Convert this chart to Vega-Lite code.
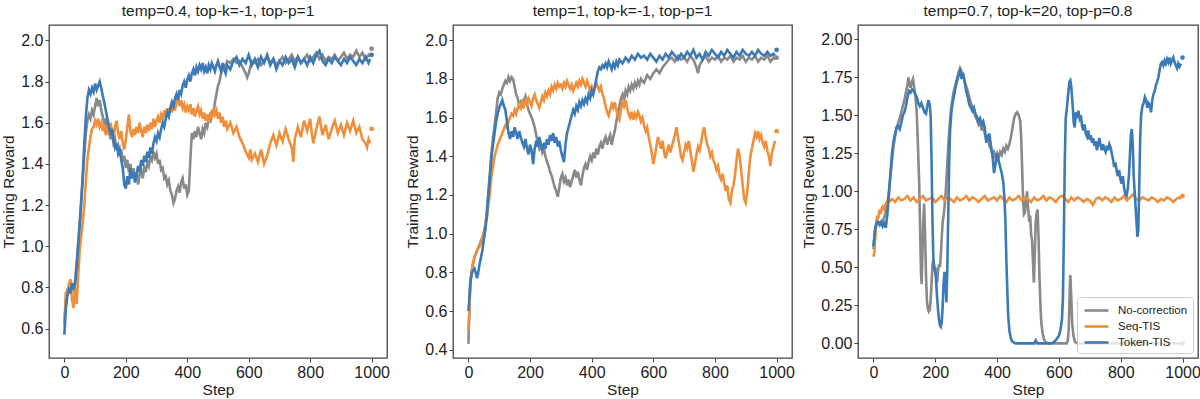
{
"$schema":"https://vega.github.io/schema/vega-lite/v6.json",
"background":"white",
"padding":{"left":1,"top":2,"right":2,"bottom":2},
"config":{"font":"Liberation Sans","view":{"stroke":"#444","strokeWidth":1.3},
"axis":{"grid":false,"domain":false,"tickColor":"#444","tickSize":4,"labelPadding":2,"labelFontSize":16,"labelColor":"#222","titleFontSize":15.5,"titleFontWeight":"normal","titleColor":"#222"},
"axisY":{"titlePadding":4},"axisX":{"titlePadding":2},
"title":{"fontSize":15.5,"fontWeight":"normal","offset":6,"color":"#222"},
"line":{"strokeWidth":2.6},"point":{"filled":true,"size":22,"opacity":1}},
"datasets":{
"p1":[
{"s":"No-correction","x":0,"y":0.62},{"s":"No-correction","x":5,"y":0.74},{"s":"No-correction","x":10,"y":0.79},{"s":"No-correction","x":15,"y":0.8},{"s":"No-correction","x":20,"y":0.77},{"s":"No-correction","x":25,"y":0.81},{"s":"No-correction","x":30,"y":0.79},{"s":"No-correction","x":35,"y":0.83},{"s":"No-correction","x":40,"y":0.92},{"s":"No-correction","x":45,"y":1.02},{"s":"No-correction","x":50,"y":1.12},{"s":"No-correction","x":55,"y":1.22},{"s":"No-correction","x":60,"y":1.33},{"s":"No-correction","x":65,"y":1.45},{"s":"No-correction","x":70,"y":1.55},{"s":"No-correction","x":75,"y":1.61},{"s":"No-correction","x":80,"y":1.64},{"s":"No-correction","x":85,"y":1.62},{"s":"No-correction","x":90,"y":1.66},{"s":"No-correction","x":95,"y":1.64},{"s":"No-correction","x":100,"y":1.68},{"s":"No-correction","x":105,"y":1.72},{"s":"No-correction","x":110,"y":1.68},{"s":"No-correction","x":115,"y":1.71},{"s":"No-correction","x":120,"y":1.66},{"s":"No-correction","x":125,"y":1.63},{"s":"No-correction","x":130,"y":1.6},{"s":"No-correction","x":135,"y":1.62},{"s":"No-correction","x":140,"y":1.56},{"s":"No-correction","x":145,"y":1.58},{"s":"No-correction","x":150,"y":1.52},{"s":"No-correction","x":155,"y":1.55},{"s":"No-correction","x":160,"y":1.5},{"s":"No-correction","x":165,"y":1.52},{"s":"No-correction","x":170,"y":1.47},{"s":"No-correction","x":175,"y":1.49},{"s":"No-correction","x":180,"y":1.44},{"s":"No-correction","x":185,"y":1.47},{"s":"No-correction","x":190,"y":1.41},{"s":"No-correction","x":195,"y":1.44},{"s":"No-correction","x":200,"y":1.38},{"s":"No-correction","x":205,"y":1.42},{"s":"No-correction","x":210,"y":1.36},{"s":"No-correction","x":215,"y":1.4},{"s":"No-correction","x":220,"y":1.35},{"s":"No-correction","x":225,"y":1.38},{"s":"No-correction","x":230,"y":1.32},{"s":"No-correction","x":235,"y":1.36},{"s":"No-correction","x":240,"y":1.3},{"s":"No-correction","x":245,"y":1.35},{"s":"No-correction","x":250,"y":1.37},{"s":"No-correction","x":255,"y":1.33},{"s":"No-correction","x":260,"y":1.38},{"s":"No-correction","x":265,"y":1.36},{"s":"No-correction","x":270,"y":1.41},{"s":"No-correction","x":275,"y":1.39},{"s":"No-correction","x":280,"y":1.44},{"s":"No-correction","x":285,"y":1.42},{"s":"No-correction","x":290,"y":1.46},{"s":"No-correction","x":295,"y":1.43},{"s":"No-correction","x":300,"y":1.45},{"s":"No-correction","x":305,"y":1.4},{"s":"No-correction","x":310,"y":1.42},{"s":"No-correction","x":315,"y":1.37},{"s":"No-correction","x":320,"y":1.38},{"s":"No-correction","x":325,"y":1.33},{"s":"No-correction","x":330,"y":1.34},{"s":"No-correction","x":335,"y":1.3},{"s":"No-correction","x":340,"y":1.32},{"s":"No-correction","x":345,"y":1.27},{"s":"No-correction","x":350,"y":1.25},{"s":"No-correction","x":355,"y":1.21},{"s":"No-correction","x":360,"y":1.23},{"s":"No-correction","x":365,"y":1.27},{"s":"No-correction","x":370,"y":1.29},{"s":"No-correction","x":375,"y":1.26},{"s":"No-correction","x":380,"y":1.31},{"s":"No-correction","x":385,"y":1.33},{"s":"No-correction","x":390,"y":1.28},{"s":"No-correction","x":395,"y":1.3},{"s":"No-correction","x":400,"y":1.25},{"s":"No-correction","x":405,"y":1.27},{"s":"No-correction","x":410,"y":1.42},{"s":"No-correction","x":415,"y":1.55},{"s":"No-correction","x":420,"y":1.52},{"s":"No-correction","x":425,"y":1.56},{"s":"No-correction","x":430,"y":1.53},{"s":"No-correction","x":435,"y":1.58},{"s":"No-correction","x":440,"y":1.55},{"s":"No-correction","x":445,"y":1.52},{"s":"No-correction","x":450,"y":1.57},{"s":"No-correction","x":455,"y":1.55},{"s":"No-correction","x":460,"y":1.6},{"s":"No-correction","x":465,"y":1.58},{"s":"No-correction","x":470,"y":1.62},{"s":"No-correction","x":475,"y":1.6},{"s":"No-correction","x":480,"y":1.66},{"s":"No-correction","x":485,"y":1.64},{"s":"No-correction","x":490,"y":1.7},{"s":"No-correction","x":495,"y":1.74},{"s":"No-correction","x":500,"y":1.78},{"s":"No-correction","x":505,"y":1.8},{"s":"No-correction","x":510,"y":1.84},{"s":"No-correction","x":515,"y":1.86},{"s":"No-correction","x":520,"y":1.88},{"s":"No-correction","x":525,"y":1.87},{"s":"No-correction","x":530,"y":1.9},{"s":"No-correction","x":540,"y":1.89},{"s":"No-correction","x":550,"y":1.91},{"s":"No-correction","x":560,"y":1.89},{"s":"No-correction","x":570,"y":1.9},{"s":"No-correction","x":580,"y":1.87},{"s":"No-correction","x":590,"y":1.84},{"s":"No-correction","x":595,"y":1.82},{"s":"No-correction","x":600,"y":1.84},{"s":"No-correction","x":605,"y":1.87},{"s":"No-correction","x":610,"y":1.9},{"s":"No-correction","x":620,"y":1.89},{"s":"No-correction","x":630,"y":1.91},{"s":"No-correction","x":640,"y":1.88},{"s":"No-correction","x":650,"y":1.9},{"s":"No-correction","x":660,"y":1.92},{"s":"No-correction","x":670,"y":1.89},{"s":"No-correction","x":680,"y":1.91},{"s":"No-correction","x":690,"y":1.88},{"s":"No-correction","x":700,"y":1.9},{"s":"No-correction","x":710,"y":1.92},{"s":"No-correction","x":720,"y":1.89},{"s":"No-correction","x":730,"y":1.91},{"s":"No-correction","x":740,"y":1.93},{"s":"No-correction","x":750,"y":1.9},{"s":"No-correction","x":760,"y":1.92},{"s":"No-correction","x":770,"y":1.89},{"s":"No-correction","x":780,"y":1.91},{"s":"No-correction","x":790,"y":1.93},{"s":"No-correction","x":800,"y":1.9},{"s":"No-correction","x":810,"y":1.92},{"s":"No-correction","x":820,"y":1.94},{"s":"No-correction","x":830,"y":1.91},{"s":"No-correction","x":840,"y":1.93},{"s":"No-correction","x":850,"y":1.9},{"s":"No-correction","x":860,"y":1.92},{"s":"No-correction","x":870,"y":1.91},{"s":"No-correction","x":880,"y":1.93},{"s":"No-correction","x":890,"y":1.9},{"s":"No-correction","x":900,"y":1.92},{"s":"No-correction","x":910,"y":1.94},{"s":"No-correction","x":920,"y":1.91},{"s":"No-correction","x":930,"y":1.93},{"s":"No-correction","x":940,"y":1.92},{"s":"No-correction","x":950,"y":1.95},{"s":"No-correction","x":960,"y":1.92},{"s":"No-correction","x":970,"y":1.94},{"s":"No-correction","x":980,"y":1.91},{"s":"No-correction","x":990,"y":1.93},{"s":"No-correction","x":995,"y":1.92},
{"s":"Seq-TIS","x":0,"y":0.62},{"s":"Seq-TIS","x":5,"y":0.78},{"s":"Seq-TIS","x":10,"y":0.76},{"s":"Seq-TIS","x":15,"y":0.82},{"s":"Seq-TIS","x":20,"y":0.84},{"s":"Seq-TIS","x":25,"y":0.74},{"s":"Seq-TIS","x":30,"y":0.7},{"s":"Seq-TIS","x":35,"y":0.8},{"s":"Seq-TIS","x":40,"y":0.72},{"s":"Seq-TIS","x":45,"y":0.86},{"s":"Seq-TIS","x":50,"y":0.98},{"s":"Seq-TIS","x":55,"y":1.05},{"s":"Seq-TIS","x":60,"y":1.12},{"s":"Seq-TIS","x":65,"y":1.2},{"s":"Seq-TIS","x":70,"y":1.32},{"s":"Seq-TIS","x":75,"y":1.42},{"s":"Seq-TIS","x":80,"y":1.48},{"s":"Seq-TIS","x":85,"y":1.53},{"s":"Seq-TIS","x":90,"y":1.57},{"s":"Seq-TIS","x":95,"y":1.58},{"s":"Seq-TIS","x":100,"y":1.61},{"s":"Seq-TIS","x":105,"y":1.59},{"s":"Seq-TIS","x":110,"y":1.62},{"s":"Seq-TIS","x":115,"y":1.58},{"s":"Seq-TIS","x":120,"y":1.6},{"s":"Seq-TIS","x":125,"y":1.56},{"s":"Seq-TIS","x":130,"y":1.59},{"s":"Seq-TIS","x":135,"y":1.54},{"s":"Seq-TIS","x":140,"y":1.57},{"s":"Seq-TIS","x":145,"y":1.55},{"s":"Seq-TIS","x":150,"y":1.6},{"s":"Seq-TIS","x":155,"y":1.56},{"s":"Seq-TIS","x":160,"y":1.53},{"s":"Seq-TIS","x":165,"y":1.58},{"s":"Seq-TIS","x":170,"y":1.61},{"s":"Seq-TIS","x":175,"y":1.55},{"s":"Seq-TIS","x":180,"y":1.52},{"s":"Seq-TIS","x":185,"y":1.56},{"s":"Seq-TIS","x":190,"y":1.5},{"s":"Seq-TIS","x":195,"y":1.47},{"s":"Seq-TIS","x":200,"y":1.52},{"s":"Seq-TIS","x":205,"y":1.58},{"s":"Seq-TIS","x":210,"y":1.64},{"s":"Seq-TIS","x":215,"y":1.56},{"s":"Seq-TIS","x":220,"y":1.53},{"s":"Seq-TIS","x":225,"y":1.57},{"s":"Seq-TIS","x":230,"y":1.54},{"s":"Seq-TIS","x":235,"y":1.58},{"s":"Seq-TIS","x":240,"y":1.55},{"s":"Seq-TIS","x":245,"y":1.6},{"s":"Seq-TIS","x":250,"y":1.56},{"s":"Seq-TIS","x":255,"y":1.53},{"s":"Seq-TIS","x":260,"y":1.58},{"s":"Seq-TIS","x":265,"y":1.55},{"s":"Seq-TIS","x":270,"y":1.59},{"s":"Seq-TIS","x":275,"y":1.56},{"s":"Seq-TIS","x":280,"y":1.6},{"s":"Seq-TIS","x":285,"y":1.57},{"s":"Seq-TIS","x":290,"y":1.62},{"s":"Seq-TIS","x":295,"y":1.58},{"s":"Seq-TIS","x":300,"y":1.61},{"s":"Seq-TIS","x":305,"y":1.63},{"s":"Seq-TIS","x":310,"y":1.6},{"s":"Seq-TIS","x":315,"y":1.64},{"s":"Seq-TIS","x":320,"y":1.62},{"s":"Seq-TIS","x":325,"y":1.66},{"s":"Seq-TIS","x":330,"y":1.63},{"s":"Seq-TIS","x":335,"y":1.67},{"s":"Seq-TIS","x":340,"y":1.64},{"s":"Seq-TIS","x":345,"y":1.68},{"s":"Seq-TIS","x":350,"y":1.65},{"s":"Seq-TIS","x":355,"y":1.69},{"s":"Seq-TIS","x":360,"y":1.66},{"s":"Seq-TIS","x":365,"y":1.7},{"s":"Seq-TIS","x":370,"y":1.72},{"s":"Seq-TIS","x":375,"y":1.68},{"s":"Seq-TIS","x":380,"y":1.71},{"s":"Seq-TIS","x":385,"y":1.67},{"s":"Seq-TIS","x":390,"y":1.69},{"s":"Seq-TIS","x":395,"y":1.65},{"s":"Seq-TIS","x":400,"y":1.68},{"s":"Seq-TIS","x":405,"y":1.66},{"s":"Seq-TIS","x":410,"y":1.69},{"s":"Seq-TIS","x":415,"y":1.64},{"s":"Seq-TIS","x":420,"y":1.67},{"s":"Seq-TIS","x":425,"y":1.63},{"s":"Seq-TIS","x":430,"y":1.66},{"s":"Seq-TIS","x":435,"y":1.68},{"s":"Seq-TIS","x":440,"y":1.64},{"s":"Seq-TIS","x":445,"y":1.66},{"s":"Seq-TIS","x":450,"y":1.62},{"s":"Seq-TIS","x":455,"y":1.65},{"s":"Seq-TIS","x":460,"y":1.61},{"s":"Seq-TIS","x":465,"y":1.64},{"s":"Seq-TIS","x":470,"y":1.6},{"s":"Seq-TIS","x":475,"y":1.65},{"s":"Seq-TIS","x":480,"y":1.62},{"s":"Seq-TIS","x":485,"y":1.67},{"s":"Seq-TIS","x":490,"y":1.64},{"s":"Seq-TIS","x":495,"y":1.66},{"s":"Seq-TIS","x":500,"y":1.62},{"s":"Seq-TIS","x":505,"y":1.65},{"s":"Seq-TIS","x":510,"y":1.6},{"s":"Seq-TIS","x":515,"y":1.63},{"s":"Seq-TIS","x":520,"y":1.58},{"s":"Seq-TIS","x":525,"y":1.61},{"s":"Seq-TIS","x":530,"y":1.57},{"s":"Seq-TIS","x":540,"y":1.6},{"s":"Seq-TIS","x":550,"y":1.55},{"s":"Seq-TIS","x":560,"y":1.58},{"s":"Seq-TIS","x":570,"y":1.53},{"s":"Seq-TIS","x":580,"y":1.5},{"s":"Seq-TIS","x":590,"y":1.46},{"s":"Seq-TIS","x":600,"y":1.43},{"s":"Seq-TIS","x":605,"y":1.47},{"s":"Seq-TIS","x":610,"y":1.42},{"s":"Seq-TIS","x":620,"y":1.45},{"s":"Seq-TIS","x":630,"y":1.41},{"s":"Seq-TIS","x":640,"y":1.47},{"s":"Seq-TIS","x":650,"y":1.4},{"s":"Seq-TIS","x":660,"y":1.44},{"s":"Seq-TIS","x":670,"y":1.5},{"s":"Seq-TIS","x":680,"y":1.54},{"s":"Seq-TIS","x":690,"y":1.49},{"s":"Seq-TIS","x":700,"y":1.55},{"s":"Seq-TIS","x":710,"y":1.51},{"s":"Seq-TIS","x":720,"y":1.57},{"s":"Seq-TIS","x":730,"y":1.52},{"s":"Seq-TIS","x":740,"y":1.48},{"s":"Seq-TIS","x":745,"y":1.41},{"s":"Seq-TIS","x":750,"y":1.52},{"s":"Seq-TIS","x":760,"y":1.58},{"s":"Seq-TIS","x":770,"y":1.53},{"s":"Seq-TIS","x":780,"y":1.61},{"s":"Seq-TIS","x":790,"y":1.56},{"s":"Seq-TIS","x":800,"y":1.62},{"s":"Seq-TIS","x":805,"y":1.55},{"s":"Seq-TIS","x":810,"y":1.5},{"s":"Seq-TIS","x":820,"y":1.57},{"s":"Seq-TIS","x":830,"y":1.63},{"s":"Seq-TIS","x":840,"y":1.54},{"s":"Seq-TIS","x":850,"y":1.59},{"s":"Seq-TIS","x":860,"y":1.52},{"s":"Seq-TIS","x":870,"y":1.57},{"s":"Seq-TIS","x":880,"y":1.61},{"s":"Seq-TIS","x":890,"y":1.55},{"s":"Seq-TIS","x":900,"y":1.59},{"s":"Seq-TIS","x":910,"y":1.54},{"s":"Seq-TIS","x":920,"y":1.6},{"s":"Seq-TIS","x":930,"y":1.56},{"s":"Seq-TIS","x":940,"y":1.61},{"s":"Seq-TIS","x":950,"y":1.55},{"s":"Seq-TIS","x":960,"y":1.58},{"s":"Seq-TIS","x":970,"y":1.52},{"s":"Seq-TIS","x":980,"y":1.5},{"s":"Seq-TIS","x":985,"y":1.48},{"s":"Seq-TIS","x":990,"y":1.52},{"s":"Seq-TIS","x":995,"y":1.5},
{"s":"Token-TIS","x":0,"y":0.57},{"s":"Token-TIS","x":5,"y":0.7},{"s":"Token-TIS","x":10,"y":0.76},{"s":"Token-TIS","x":15,"y":0.79},{"s":"Token-TIS","x":20,"y":0.78},{"s":"Token-TIS","x":25,"y":0.82},{"s":"Token-TIS","x":30,"y":0.79},{"s":"Token-TIS","x":35,"y":0.82},{"s":"Token-TIS","x":40,"y":0.9},{"s":"Token-TIS","x":45,"y":1.0},{"s":"Token-TIS","x":50,"y":1.1},{"s":"Token-TIS","x":55,"y":1.22},{"s":"Token-TIS","x":60,"y":1.35},{"s":"Token-TIS","x":65,"y":1.5},{"s":"Token-TIS","x":70,"y":1.63},{"s":"Token-TIS","x":75,"y":1.72},{"s":"Token-TIS","x":80,"y":1.76},{"s":"Token-TIS","x":85,"y":1.74},{"s":"Token-TIS","x":90,"y":1.77},{"s":"Token-TIS","x":95,"y":1.75},{"s":"Token-TIS","x":100,"y":1.79},{"s":"Token-TIS","x":105,"y":1.76},{"s":"Token-TIS","x":110,"y":1.78},{"s":"Token-TIS","x":115,"y":1.8},{"s":"Token-TIS","x":120,"y":1.77},{"s":"Token-TIS","x":125,"y":1.73},{"s":"Token-TIS","x":130,"y":1.7},{"s":"Token-TIS","x":135,"y":1.66},{"s":"Token-TIS","x":140,"y":1.62},{"s":"Token-TIS","x":145,"y":1.58},{"s":"Token-TIS","x":150,"y":1.55},{"s":"Token-TIS","x":155,"y":1.57},{"s":"Token-TIS","x":160,"y":1.52},{"s":"Token-TIS","x":165,"y":1.48},{"s":"Token-TIS","x":170,"y":1.5},{"s":"Token-TIS","x":175,"y":1.45},{"s":"Token-TIS","x":180,"y":1.47},{"s":"Token-TIS","x":185,"y":1.42},{"s":"Token-TIS","x":190,"y":1.38},{"s":"Token-TIS","x":195,"y":1.3},{"s":"Token-TIS","x":200,"y":1.28},{"s":"Token-TIS","x":205,"y":1.34},{"s":"Token-TIS","x":210,"y":1.3},{"s":"Token-TIS","x":215,"y":1.38},{"s":"Token-TIS","x":220,"y":1.33},{"s":"Token-TIS","x":225,"y":1.36},{"s":"Token-TIS","x":230,"y":1.31},{"s":"Token-TIS","x":235,"y":1.35},{"s":"Token-TIS","x":240,"y":1.39},{"s":"Token-TIS","x":245,"y":1.36},{"s":"Token-TIS","x":250,"y":1.42},{"s":"Token-TIS","x":255,"y":1.39},{"s":"Token-TIS","x":260,"y":1.44},{"s":"Token-TIS","x":265,"y":1.41},{"s":"Token-TIS","x":270,"y":1.46},{"s":"Token-TIS","x":275,"y":1.43},{"s":"Token-TIS","x":280,"y":1.48},{"s":"Token-TIS","x":285,"y":1.45},{"s":"Token-TIS","x":290,"y":1.5},{"s":"Token-TIS","x":295,"y":1.53},{"s":"Token-TIS","x":300,"y":1.51},{"s":"Token-TIS","x":305,"y":1.55},{"s":"Token-TIS","x":310,"y":1.53},{"s":"Token-TIS","x":315,"y":1.57},{"s":"Token-TIS","x":320,"y":1.6},{"s":"Token-TIS","x":325,"y":1.58},{"s":"Token-TIS","x":330,"y":1.62},{"s":"Token-TIS","x":335,"y":1.65},{"s":"Token-TIS","x":340,"y":1.63},{"s":"Token-TIS","x":345,"y":1.67},{"s":"Token-TIS","x":350,"y":1.7},{"s":"Token-TIS","x":355,"y":1.68},{"s":"Token-TIS","x":360,"y":1.72},{"s":"Token-TIS","x":365,"y":1.74},{"s":"Token-TIS","x":370,"y":1.71},{"s":"Token-TIS","x":375,"y":1.76},{"s":"Token-TIS","x":380,"y":1.74},{"s":"Token-TIS","x":385,"y":1.78},{"s":"Token-TIS","x":390,"y":1.8},{"s":"Token-TIS","x":395,"y":1.77},{"s":"Token-TIS","x":400,"y":1.81},{"s":"Token-TIS","x":405,"y":1.83},{"s":"Token-TIS","x":410,"y":1.8},{"s":"Token-TIS","x":415,"y":1.84},{"s":"Token-TIS","x":420,"y":1.86},{"s":"Token-TIS","x":425,"y":1.83},{"s":"Token-TIS","x":430,"y":1.87},{"s":"Token-TIS","x":435,"y":1.85},{"s":"Token-TIS","x":440,"y":1.88},{"s":"Token-TIS","x":445,"y":1.86},{"s":"Token-TIS","x":450,"y":1.89},{"s":"Token-TIS","x":455,"y":1.85},{"s":"Token-TIS","x":460,"y":1.87},{"s":"Token-TIS","x":465,"y":1.84},{"s":"Token-TIS","x":470,"y":1.88},{"s":"Token-TIS","x":475,"y":1.86},{"s":"Token-TIS","x":480,"y":1.89},{"s":"Token-TIS","x":485,"y":1.87},{"s":"Token-TIS","x":490,"y":1.85},{"s":"Token-TIS","x":495,"y":1.88},{"s":"Token-TIS","x":500,"y":1.9},{"s":"Token-TIS","x":505,"y":1.87},{"s":"Token-TIS","x":510,"y":1.85},{"s":"Token-TIS","x":515,"y":1.89},{"s":"Token-TIS","x":520,"y":1.86},{"s":"Token-TIS","x":525,"y":1.84},{"s":"Token-TIS","x":530,"y":1.88},{"s":"Token-TIS","x":540,"y":1.86},{"s":"Token-TIS","x":550,"y":1.9},{"s":"Token-TIS","x":560,"y":1.92},{"s":"Token-TIS","x":570,"y":1.88},{"s":"Token-TIS","x":580,"y":1.91},{"s":"Token-TIS","x":590,"y":1.89},{"s":"Token-TIS","x":600,"y":1.93},{"s":"Token-TIS","x":610,"y":1.88},{"s":"Token-TIS","x":620,"y":1.91},{"s":"Token-TIS","x":630,"y":1.87},{"s":"Token-TIS","x":640,"y":1.92},{"s":"Token-TIS","x":650,"y":1.89},{"s":"Token-TIS","x":660,"y":1.93},{"s":"Token-TIS","x":670,"y":1.88},{"s":"Token-TIS","x":680,"y":1.91},{"s":"Token-TIS","x":690,"y":1.86},{"s":"Token-TIS","x":700,"y":1.9},{"s":"Token-TIS","x":710,"y":1.88},{"s":"Token-TIS","x":720,"y":1.92},{"s":"Token-TIS","x":730,"y":1.89},{"s":"Token-TIS","x":740,"y":1.91},{"s":"Token-TIS","x":750,"y":1.87},{"s":"Token-TIS","x":760,"y":1.92},{"s":"Token-TIS","x":770,"y":1.89},{"s":"Token-TIS","x":780,"y":1.91},{"s":"Token-TIS","x":790,"y":1.88},{"s":"Token-TIS","x":800,"y":1.92},{"s":"Token-TIS","x":810,"y":1.89},{"s":"Token-TIS","x":820,"y":1.93},{"s":"Token-TIS","x":830,"y":1.95},{"s":"Token-TIS","x":840,"y":1.9},{"s":"Token-TIS","x":850,"y":1.88},{"s":"Token-TIS","x":860,"y":1.91},{"s":"Token-TIS","x":870,"y":1.89},{"s":"Token-TIS","x":880,"y":1.92},{"s":"Token-TIS","x":890,"y":1.9},{"s":"Token-TIS","x":900,"y":1.88},{"s":"Token-TIS","x":910,"y":1.91},{"s":"Token-TIS","x":920,"y":1.89},{"s":"Token-TIS","x":930,"y":1.92},{"s":"Token-TIS","x":940,"y":1.9},{"s":"Token-TIS","x":950,"y":1.88},{"s":"Token-TIS","x":960,"y":1.91},{"s":"Token-TIS","x":970,"y":1.89},{"s":"Token-TIS","x":980,"y":1.92},{"s":"Token-TIS","x":990,"y":1.89},{"s":"Token-TIS","x":995,"y":1.91}
],
"e1":[{"s":"No-correction","x":1000,"y":1.96},{"s":"Seq-TIS","x":1000,"y":1.57},{"s":"Token-TIS","x":1000,"y":1.93}],
"p2":[
{"s":"No-correction","x":0,"y":0.43},{"s":"No-correction","x":3,"y":0.6},{"s":"No-correction","x":6,"y":0.74},{"s":"No-correction","x":10,"y":0.8},{"s":"No-correction","x":15,"y":0.84},{"s":"No-correction","x":20,"y":0.88},{"s":"No-correction","x":25,"y":0.9},{"s":"No-correction","x":30,"y":0.92},{"s":"No-correction","x":35,"y":0.94},{"s":"No-correction","x":40,"y":0.96},{"s":"No-correction","x":45,"y":0.98},{"s":"No-correction","x":50,"y":1.0},{"s":"No-correction","x":55,"y":1.04},{"s":"No-correction","x":60,"y":1.12},{"s":"No-correction","x":65,"y":1.22},{"s":"No-correction","x":70,"y":1.32},{"s":"No-correction","x":75,"y":1.42},{"s":"No-correction","x":80,"y":1.5},{"s":"No-correction","x":85,"y":1.56},{"s":"No-correction","x":90,"y":1.63},{"s":"No-correction","x":95,"y":1.7},{"s":"No-correction","x":100,"y":1.73},{"s":"No-correction","x":105,"y":1.72},{"s":"No-correction","x":110,"y":1.75},{"s":"No-correction","x":115,"y":1.77},{"s":"No-correction","x":120,"y":1.79},{"s":"No-correction","x":125,"y":1.78},{"s":"No-correction","x":130,"y":1.81},{"s":"No-correction","x":135,"y":1.79},{"s":"No-correction","x":140,"y":1.81},{"s":"No-correction","x":145,"y":1.8},{"s":"No-correction","x":150,"y":1.76},{"s":"No-correction","x":155,"y":1.72},{"s":"No-correction","x":160,"y":1.7},{"s":"No-correction","x":165,"y":1.66},{"s":"No-correction","x":170,"y":1.68},{"s":"No-correction","x":175,"y":1.65},{"s":"No-correction","x":180,"y":1.69},{"s":"No-correction","x":185,"y":1.71},{"s":"No-correction","x":190,"y":1.67},{"s":"No-correction","x":195,"y":1.64},{"s":"No-correction","x":200,"y":1.62},{"s":"No-correction","x":205,"y":1.6},{"s":"No-correction","x":210,"y":1.58},{"s":"No-correction","x":215,"y":1.55},{"s":"No-correction","x":220,"y":1.51},{"s":"No-correction","x":225,"y":1.47},{"s":"No-correction","x":230,"y":1.44},{"s":"No-correction","x":235,"y":1.46},{"s":"No-correction","x":240,"y":1.42},{"s":"No-correction","x":245,"y":1.44},{"s":"No-correction","x":250,"y":1.4},{"s":"No-correction","x":255,"y":1.37},{"s":"No-correction","x":260,"y":1.35},{"s":"No-correction","x":265,"y":1.32},{"s":"No-correction","x":270,"y":1.3},{"s":"No-correction","x":275,"y":1.27},{"s":"No-correction","x":280,"y":1.24},{"s":"No-correction","x":285,"y":1.22},{"s":"No-correction","x":290,"y":1.19},{"s":"No-correction","x":295,"y":1.24},{"s":"No-correction","x":300,"y":1.29},{"s":"No-correction","x":305,"y":1.31},{"s":"No-correction","x":310,"y":1.27},{"s":"No-correction","x":315,"y":1.29},{"s":"No-correction","x":320,"y":1.25},{"s":"No-correction","x":325,"y":1.28},{"s":"No-correction","x":330,"y":1.24},{"s":"No-correction","x":335,"y":1.27},{"s":"No-correction","x":340,"y":1.3},{"s":"No-correction","x":345,"y":1.33},{"s":"No-correction","x":350,"y":1.29},{"s":"No-correction","x":355,"y":1.32},{"s":"No-correction","x":360,"y":1.28},{"s":"No-correction","x":365,"y":1.25},{"s":"No-correction","x":370,"y":1.3},{"s":"No-correction","x":375,"y":1.34},{"s":"No-correction","x":380,"y":1.36},{"s":"No-correction","x":385,"y":1.33},{"s":"No-correction","x":390,"y":1.37},{"s":"No-correction","x":395,"y":1.4},{"s":"No-correction","x":400,"y":1.38},{"s":"No-correction","x":405,"y":1.42},{"s":"No-correction","x":410,"y":1.39},{"s":"No-correction","x":415,"y":1.44},{"s":"No-correction","x":420,"y":1.41},{"s":"No-correction","x":425,"y":1.45},{"s":"No-correction","x":430,"y":1.47},{"s":"No-correction","x":435,"y":1.44},{"s":"No-correction","x":440,"y":1.48},{"s":"No-correction","x":445,"y":1.5},{"s":"No-correction","x":450,"y":1.46},{"s":"No-correction","x":455,"y":1.49},{"s":"No-correction","x":460,"y":1.51},{"s":"No-correction","x":465,"y":1.46},{"s":"No-correction","x":470,"y":1.5},{"s":"No-correction","x":475,"y":1.53},{"s":"No-correction","x":480,"y":1.58},{"s":"No-correction","x":485,"y":1.62},{"s":"No-correction","x":490,"y":1.66},{"s":"No-correction","x":495,"y":1.7},{"s":"No-correction","x":500,"y":1.72},{"s":"No-correction","x":505,"y":1.69},{"s":"No-correction","x":510,"y":1.74},{"s":"No-correction","x":515,"y":1.72},{"s":"No-correction","x":520,"y":1.76},{"s":"No-correction","x":525,"y":1.74},{"s":"No-correction","x":530,"y":1.77},{"s":"No-correction","x":535,"y":1.75},{"s":"No-correction","x":540,"y":1.78},{"s":"No-correction","x":545,"y":1.76},{"s":"No-correction","x":550,"y":1.79},{"s":"No-correction","x":555,"y":1.77},{"s":"No-correction","x":560,"y":1.8},{"s":"No-correction","x":570,"y":1.78},{"s":"No-correction","x":580,"y":1.82},{"s":"No-correction","x":590,"y":1.8},{"s":"No-correction","x":600,"y":1.83},{"s":"No-correction","x":610,"y":1.85},{"s":"No-correction","x":620,"y":1.83},{"s":"No-correction","x":630,"y":1.86},{"s":"No-correction","x":640,"y":1.88},{"s":"No-correction","x":650,"y":1.9},{"s":"No-correction","x":660,"y":1.91},{"s":"No-correction","x":670,"y":1.89},{"s":"No-correction","x":680,"y":1.92},{"s":"No-correction","x":690,"y":1.9},{"s":"No-correction","x":700,"y":1.91},{"s":"No-correction","x":710,"y":1.89},{"s":"No-correction","x":720,"y":1.92},{"s":"No-correction","x":730,"y":1.9},{"s":"No-correction","x":740,"y":1.86},{"s":"No-correction","x":745,"y":1.83},{"s":"No-correction","x":750,"y":1.87},{"s":"No-correction","x":760,"y":1.9},{"s":"No-correction","x":770,"y":1.92},{"s":"No-correction","x":780,"y":1.89},{"s":"No-correction","x":790,"y":1.91},{"s":"No-correction","x":800,"y":1.9},{"s":"No-correction","x":810,"y":1.92},{"s":"No-correction","x":820,"y":1.89},{"s":"No-correction","x":830,"y":1.91},{"s":"No-correction","x":840,"y":1.9},{"s":"No-correction","x":850,"y":1.92},{"s":"No-correction","x":860,"y":1.89},{"s":"No-correction","x":870,"y":1.91},{"s":"No-correction","x":880,"y":1.9},{"s":"No-correction","x":890,"y":1.92},{"s":"No-correction","x":900,"y":1.89},{"s":"No-correction","x":910,"y":1.91},{"s":"No-correction","x":920,"y":1.9},{"s":"No-correction","x":930,"y":1.92},{"s":"No-correction","x":940,"y":1.89},{"s":"No-correction","x":950,"y":1.91},{"s":"No-correction","x":960,"y":1.9},{"s":"No-correction","x":970,"y":1.92},{"s":"No-correction","x":980,"y":1.89},{"s":"No-correction","x":990,"y":1.91},{"s":"No-correction","x":995,"y":1.9},
{"s":"Seq-TIS","x":0,"y":0.5},{"s":"Seq-TIS","x":3,"y":0.6},{"s":"Seq-TIS","x":6,"y":0.74},{"s":"Seq-TIS","x":10,"y":0.8},{"s":"Seq-TIS","x":15,"y":0.85},{"s":"Seq-TIS","x":20,"y":0.88},{"s":"Seq-TIS","x":25,"y":0.9},{"s":"Seq-TIS","x":30,"y":0.92},{"s":"Seq-TIS","x":35,"y":0.93},{"s":"Seq-TIS","x":40,"y":0.95},{"s":"Seq-TIS","x":45,"y":0.97},{"s":"Seq-TIS","x":50,"y":1.01},{"s":"Seq-TIS","x":55,"y":1.05},{"s":"Seq-TIS","x":60,"y":1.08},{"s":"Seq-TIS","x":65,"y":1.15},{"s":"Seq-TIS","x":70,"y":1.22},{"s":"Seq-TIS","x":75,"y":1.3},{"s":"Seq-TIS","x":80,"y":1.35},{"s":"Seq-TIS","x":85,"y":1.4},{"s":"Seq-TIS","x":90,"y":1.43},{"s":"Seq-TIS","x":95,"y":1.46},{"s":"Seq-TIS","x":100,"y":1.48},{"s":"Seq-TIS","x":105,"y":1.5},{"s":"Seq-TIS","x":110,"y":1.52},{"s":"Seq-TIS","x":115,"y":1.54},{"s":"Seq-TIS","x":120,"y":1.56},{"s":"Seq-TIS","x":125,"y":1.55},{"s":"Seq-TIS","x":130,"y":1.58},{"s":"Seq-TIS","x":135,"y":1.6},{"s":"Seq-TIS","x":140,"y":1.62},{"s":"Seq-TIS","x":145,"y":1.61},{"s":"Seq-TIS","x":150,"y":1.64},{"s":"Seq-TIS","x":155,"y":1.62},{"s":"Seq-TIS","x":160,"y":1.65},{"s":"Seq-TIS","x":165,"y":1.67},{"s":"Seq-TIS","x":170,"y":1.65},{"s":"Seq-TIS","x":175,"y":1.68},{"s":"Seq-TIS","x":180,"y":1.66},{"s":"Seq-TIS","x":185,"y":1.69},{"s":"Seq-TIS","x":190,"y":1.67},{"s":"Seq-TIS","x":195,"y":1.7},{"s":"Seq-TIS","x":200,"y":1.68},{"s":"Seq-TIS","x":205,"y":1.66},{"s":"Seq-TIS","x":210,"y":1.7},{"s":"Seq-TIS","x":215,"y":1.72},{"s":"Seq-TIS","x":220,"y":1.69},{"s":"Seq-TIS","x":225,"y":1.67},{"s":"Seq-TIS","x":230,"y":1.65},{"s":"Seq-TIS","x":235,"y":1.68},{"s":"Seq-TIS","x":240,"y":1.71},{"s":"Seq-TIS","x":245,"y":1.69},{"s":"Seq-TIS","x":250,"y":1.73},{"s":"Seq-TIS","x":255,"y":1.71},{"s":"Seq-TIS","x":260,"y":1.74},{"s":"Seq-TIS","x":265,"y":1.72},{"s":"Seq-TIS","x":270,"y":1.76},{"s":"Seq-TIS","x":275,"y":1.74},{"s":"Seq-TIS","x":280,"y":1.77},{"s":"Seq-TIS","x":285,"y":1.75},{"s":"Seq-TIS","x":290,"y":1.78},{"s":"Seq-TIS","x":295,"y":1.76},{"s":"Seq-TIS","x":300,"y":1.77},{"s":"Seq-TIS","x":305,"y":1.75},{"s":"Seq-TIS","x":310,"y":1.78},{"s":"Seq-TIS","x":315,"y":1.76},{"s":"Seq-TIS","x":320,"y":1.79},{"s":"Seq-TIS","x":325,"y":1.77},{"s":"Seq-TIS","x":330,"y":1.75},{"s":"Seq-TIS","x":335,"y":1.77},{"s":"Seq-TIS","x":340,"y":1.74},{"s":"Seq-TIS","x":345,"y":1.76},{"s":"Seq-TIS","x":350,"y":1.78},{"s":"Seq-TIS","x":355,"y":1.76},{"s":"Seq-TIS","x":360,"y":1.79},{"s":"Seq-TIS","x":365,"y":1.77},{"s":"Seq-TIS","x":370,"y":1.8},{"s":"Seq-TIS","x":375,"y":1.78},{"s":"Seq-TIS","x":380,"y":1.76},{"s":"Seq-TIS","x":385,"y":1.79},{"s":"Seq-TIS","x":390,"y":1.77},{"s":"Seq-TIS","x":395,"y":1.74},{"s":"Seq-TIS","x":400,"y":1.76},{"s":"Seq-TIS","x":405,"y":1.73},{"s":"Seq-TIS","x":410,"y":1.75},{"s":"Seq-TIS","x":415,"y":1.78},{"s":"Seq-TIS","x":420,"y":1.76},{"s":"Seq-TIS","x":425,"y":1.74},{"s":"Seq-TIS","x":430,"y":1.76},{"s":"Seq-TIS","x":435,"y":1.72},{"s":"Seq-TIS","x":440,"y":1.7},{"s":"Seq-TIS","x":445,"y":1.66},{"s":"Seq-TIS","x":450,"y":1.63},{"s":"Seq-TIS","x":455,"y":1.61},{"s":"Seq-TIS","x":460,"y":1.64},{"s":"Seq-TIS","x":465,"y":1.67},{"s":"Seq-TIS","x":470,"y":1.65},{"s":"Seq-TIS","x":475,"y":1.68},{"s":"Seq-TIS","x":480,"y":1.64},{"s":"Seq-TIS","x":485,"y":1.61},{"s":"Seq-TIS","x":490,"y":1.59},{"s":"Seq-TIS","x":495,"y":1.64},{"s":"Seq-TIS","x":500,"y":1.68},{"s":"Seq-TIS","x":505,"y":1.66},{"s":"Seq-TIS","x":510,"y":1.69},{"s":"Seq-TIS","x":515,"y":1.65},{"s":"Seq-TIS","x":520,"y":1.62},{"s":"Seq-TIS","x":525,"y":1.6},{"s":"Seq-TIS","x":530,"y":1.63},{"s":"Seq-TIS","x":535,"y":1.59},{"s":"Seq-TIS","x":540,"y":1.62},{"s":"Seq-TIS","x":545,"y":1.6},{"s":"Seq-TIS","x":550,"y":1.63},{"s":"Seq-TIS","x":555,"y":1.61},{"s":"Seq-TIS","x":560,"y":1.58},{"s":"Seq-TIS","x":565,"y":1.6},{"s":"Seq-TIS","x":570,"y":1.56},{"s":"Seq-TIS","x":575,"y":1.53},{"s":"Seq-TIS","x":580,"y":1.55},{"s":"Seq-TIS","x":585,"y":1.5},{"s":"Seq-TIS","x":590,"y":1.46},{"s":"Seq-TIS","x":595,"y":1.42},{"s":"Seq-TIS","x":600,"y":1.36},{"s":"Seq-TIS","x":605,"y":1.4},{"s":"Seq-TIS","x":610,"y":1.45},{"s":"Seq-TIS","x":615,"y":1.5},{"s":"Seq-TIS","x":620,"y":1.47},{"s":"Seq-TIS","x":625,"y":1.44},{"s":"Seq-TIS","x":630,"y":1.48},{"s":"Seq-TIS","x":635,"y":1.42},{"s":"Seq-TIS","x":640,"y":1.39},{"s":"Seq-TIS","x":645,"y":1.43},{"s":"Seq-TIS","x":650,"y":1.46},{"s":"Seq-TIS","x":655,"y":1.42},{"s":"Seq-TIS","x":660,"y":1.45},{"s":"Seq-TIS","x":665,"y":1.48},{"s":"Seq-TIS","x":670,"y":1.51},{"s":"Seq-TIS","x":675,"y":1.55},{"s":"Seq-TIS","x":680,"y":1.5},{"s":"Seq-TIS","x":685,"y":1.45},{"s":"Seq-TIS","x":690,"y":1.4},{"s":"Seq-TIS","x":695,"y":1.38},{"s":"Seq-TIS","x":700,"y":1.42},{"s":"Seq-TIS","x":705,"y":1.46},{"s":"Seq-TIS","x":710,"y":1.44},{"s":"Seq-TIS","x":715,"y":1.48},{"s":"Seq-TIS","x":720,"y":1.43},{"s":"Seq-TIS","x":725,"y":1.38},{"s":"Seq-TIS","x":730,"y":1.32},{"s":"Seq-TIS","x":735,"y":1.36},{"s":"Seq-TIS","x":740,"y":1.41},{"s":"Seq-TIS","x":745,"y":1.45},{"s":"Seq-TIS","x":750,"y":1.43},{"s":"Seq-TIS","x":755,"y":1.47},{"s":"Seq-TIS","x":760,"y":1.52},{"s":"Seq-TIS","x":765,"y":1.55},{"s":"Seq-TIS","x":770,"y":1.5},{"s":"Seq-TIS","x":775,"y":1.46},{"s":"Seq-TIS","x":780,"y":1.44},{"s":"Seq-TIS","x":785,"y":1.4},{"s":"Seq-TIS","x":790,"y":1.42},{"s":"Seq-TIS","x":795,"y":1.38},{"s":"Seq-TIS","x":800,"y":1.36},{"s":"Seq-TIS","x":805,"y":1.33},{"s":"Seq-TIS","x":810,"y":1.35},{"s":"Seq-TIS","x":815,"y":1.3},{"s":"Seq-TIS","x":820,"y":1.28},{"s":"Seq-TIS","x":825,"y":1.31},{"s":"Seq-TIS","x":830,"y":1.26},{"s":"Seq-TIS","x":835,"y":1.22},{"s":"Seq-TIS","x":840,"y":1.25},{"s":"Seq-TIS","x":845,"y":1.18},{"s":"Seq-TIS","x":850,"y":1.16},{"s":"Seq-TIS","x":855,"y":1.22},{"s":"Seq-TIS","x":860,"y":1.25},{"s":"Seq-TIS","x":865,"y":1.3},{"s":"Seq-TIS","x":870,"y":1.38},{"s":"Seq-TIS","x":875,"y":1.44},{"s":"Seq-TIS","x":880,"y":1.4},{"s":"Seq-TIS","x":885,"y":1.33},{"s":"Seq-TIS","x":890,"y":1.25},{"s":"Seq-TIS","x":895,"y":1.18},{"s":"Seq-TIS","x":900,"y":1.16},{"s":"Seq-TIS","x":905,"y":1.22},{"s":"Seq-TIS","x":910,"y":1.32},{"s":"Seq-TIS","x":915,"y":1.4},{"s":"Seq-TIS","x":920,"y":1.44},{"s":"Seq-TIS","x":925,"y":1.48},{"s":"Seq-TIS","x":930,"y":1.52},{"s":"Seq-TIS","x":935,"y":1.5},{"s":"Seq-TIS","x":940,"y":1.53},{"s":"Seq-TIS","x":945,"y":1.49},{"s":"Seq-TIS","x":950,"y":1.51},{"s":"Seq-TIS","x":955,"y":1.47},{"s":"Seq-TIS","x":960,"y":1.45},{"s":"Seq-TIS","x":965,"y":1.48},{"s":"Seq-TIS","x":970,"y":1.43},{"s":"Seq-TIS","x":975,"y":1.4},{"s":"Seq-TIS","x":980,"y":1.35},{"s":"Seq-TIS","x":985,"y":1.42},{"s":"Seq-TIS","x":990,"y":1.45},{"s":"Seq-TIS","x":995,"y":1.48},
{"s":"Token-TIS","x":0,"y":0.6},{"s":"Token-TIS","x":3,"y":0.66},{"s":"Token-TIS","x":6,"y":0.74},{"s":"Token-TIS","x":10,"y":0.79},{"s":"Token-TIS","x":15,"y":0.81},{"s":"Token-TIS","x":20,"y":0.82},{"s":"Token-TIS","x":25,"y":0.79},{"s":"Token-TIS","x":28,"y":0.77},{"s":"Token-TIS","x":32,"y":0.8},{"s":"Token-TIS","x":36,"y":0.84},{"s":"Token-TIS","x":40,"y":0.87},{"s":"Token-TIS","x":45,"y":0.91},{"s":"Token-TIS","x":50,"y":0.97},{"s":"Token-TIS","x":55,"y":1.02},{"s":"Token-TIS","x":60,"y":1.1},{"s":"Token-TIS","x":65,"y":1.2},{"s":"Token-TIS","x":70,"y":1.3},{"s":"Token-TIS","x":75,"y":1.4},{"s":"Token-TIS","x":80,"y":1.46},{"s":"Token-TIS","x":85,"y":1.52},{"s":"Token-TIS","x":90,"y":1.58},{"s":"Token-TIS","x":95,"y":1.62},{"s":"Token-TIS","x":100,"y":1.65},{"s":"Token-TIS","x":105,"y":1.67},{"s":"Token-TIS","x":110,"y":1.69},{"s":"Token-TIS","x":115,"y":1.66},{"s":"Token-TIS","x":120,"y":1.64},{"s":"Token-TIS","x":125,"y":1.58},{"s":"Token-TIS","x":130,"y":1.52},{"s":"Token-TIS","x":135,"y":1.49},{"s":"Token-TIS","x":140,"y":1.53},{"s":"Token-TIS","x":145,"y":1.5},{"s":"Token-TIS","x":150,"y":1.55},{"s":"Token-TIS","x":155,"y":1.52},{"s":"Token-TIS","x":160,"y":1.49},{"s":"Token-TIS","x":165,"y":1.53},{"s":"Token-TIS","x":170,"y":1.5},{"s":"Token-TIS","x":175,"y":1.47},{"s":"Token-TIS","x":180,"y":1.45},{"s":"Token-TIS","x":185,"y":1.49},{"s":"Token-TIS","x":190,"y":1.44},{"s":"Token-TIS","x":195,"y":1.41},{"s":"Token-TIS","x":200,"y":1.46},{"s":"Token-TIS","x":205,"y":1.43},{"s":"Token-TIS","x":210,"y":1.36},{"s":"Token-TIS","x":215,"y":1.44},{"s":"Token-TIS","x":220,"y":1.48},{"s":"Token-TIS","x":225,"y":1.45},{"s":"Token-TIS","x":230,"y":1.5},{"s":"Token-TIS","x":235,"y":1.46},{"s":"Token-TIS","x":240,"y":1.43},{"s":"Token-TIS","x":245,"y":1.47},{"s":"Token-TIS","x":250,"y":1.44},{"s":"Token-TIS","x":255,"y":1.49},{"s":"Token-TIS","x":260,"y":1.46},{"s":"Token-TIS","x":265,"y":1.51},{"s":"Token-TIS","x":270,"y":1.48},{"s":"Token-TIS","x":275,"y":1.52},{"s":"Token-TIS","x":280,"y":1.47},{"s":"Token-TIS","x":285,"y":1.5},{"s":"Token-TIS","x":290,"y":1.45},{"s":"Token-TIS","x":295,"y":1.48},{"s":"Token-TIS","x":300,"y":1.43},{"s":"Token-TIS","x":305,"y":1.4},{"s":"Token-TIS","x":310,"y":1.37},{"s":"Token-TIS","x":315,"y":1.46},{"s":"Token-TIS","x":320,"y":1.52},{"s":"Token-TIS","x":325,"y":1.55},{"s":"Token-TIS","x":330,"y":1.58},{"s":"Token-TIS","x":335,"y":1.61},{"s":"Token-TIS","x":340,"y":1.64},{"s":"Token-TIS","x":345,"y":1.62},{"s":"Token-TIS","x":350,"y":1.66},{"s":"Token-TIS","x":355,"y":1.64},{"s":"Token-TIS","x":360,"y":1.68},{"s":"Token-TIS","x":365,"y":1.66},{"s":"Token-TIS","x":370,"y":1.69},{"s":"Token-TIS","x":375,"y":1.67},{"s":"Token-TIS","x":380,"y":1.7},{"s":"Token-TIS","x":385,"y":1.68},{"s":"Token-TIS","x":390,"y":1.72},{"s":"Token-TIS","x":395,"y":1.7},{"s":"Token-TIS","x":400,"y":1.74},{"s":"Token-TIS","x":405,"y":1.72},{"s":"Token-TIS","x":410,"y":1.76},{"s":"Token-TIS","x":415,"y":1.8},{"s":"Token-TIS","x":420,"y":1.84},{"s":"Token-TIS","x":425,"y":1.86},{"s":"Token-TIS","x":430,"y":1.85},{"s":"Token-TIS","x":435,"y":1.87},{"s":"Token-TIS","x":440,"y":1.86},{"s":"Token-TIS","x":445,"y":1.88},{"s":"Token-TIS","x":450,"y":1.86},{"s":"Token-TIS","x":455,"y":1.89},{"s":"Token-TIS","x":460,"y":1.87},{"s":"Token-TIS","x":465,"y":1.85},{"s":"Token-TIS","x":470,"y":1.88},{"s":"Token-TIS","x":475,"y":1.86},{"s":"Token-TIS","x":480,"y":1.89},{"s":"Token-TIS","x":485,"y":1.87},{"s":"Token-TIS","x":490,"y":1.9},{"s":"Token-TIS","x":500,"y":1.88},{"s":"Token-TIS","x":510,"y":1.91},{"s":"Token-TIS","x":520,"y":1.89},{"s":"Token-TIS","x":530,"y":1.92},{"s":"Token-TIS","x":540,"y":1.9},{"s":"Token-TIS","x":550,"y":1.93},{"s":"Token-TIS","x":560,"y":1.91},{"s":"Token-TIS","x":570,"y":1.92},{"s":"Token-TIS","x":580,"y":1.9},{"s":"Token-TIS","x":590,"y":1.93},{"s":"Token-TIS","x":600,"y":1.91},{"s":"Token-TIS","x":610,"y":1.89},{"s":"Token-TIS","x":620,"y":1.92},{"s":"Token-TIS","x":630,"y":1.9},{"s":"Token-TIS","x":640,"y":1.93},{"s":"Token-TIS","x":650,"y":1.91},{"s":"Token-TIS","x":660,"y":1.94},{"s":"Token-TIS","x":670,"y":1.92},{"s":"Token-TIS","x":680,"y":1.9},{"s":"Token-TIS","x":690,"y":1.93},{"s":"Token-TIS","x":700,"y":1.91},{"s":"Token-TIS","x":710,"y":1.94},{"s":"Token-TIS","x":720,"y":1.92},{"s":"Token-TIS","x":730,"y":1.95},{"s":"Token-TIS","x":740,"y":1.91},{"s":"Token-TIS","x":750,"y":1.93},{"s":"Token-TIS","x":760,"y":1.9},{"s":"Token-TIS","x":770,"y":1.94},{"s":"Token-TIS","x":780,"y":1.92},{"s":"Token-TIS","x":790,"y":1.95},{"s":"Token-TIS","x":800,"y":1.93},{"s":"Token-TIS","x":810,"y":1.91},{"s":"Token-TIS","x":820,"y":1.94},{"s":"Token-TIS","x":830,"y":1.92},{"s":"Token-TIS","x":840,"y":1.95},{"s":"Token-TIS","x":850,"y":1.93},{"s":"Token-TIS","x":860,"y":1.91},{"s":"Token-TIS","x":870,"y":1.94},{"s":"Token-TIS","x":880,"y":1.92},{"s":"Token-TIS","x":890,"y":1.95},{"s":"Token-TIS","x":900,"y":1.93},{"s":"Token-TIS","x":910,"y":1.92},{"s":"Token-TIS","x":920,"y":1.94},{"s":"Token-TIS","x":930,"y":1.92},{"s":"Token-TIS","x":940,"y":1.95},{"s":"Token-TIS","x":950,"y":1.93},{"s":"Token-TIS","x":960,"y":1.92},{"s":"Token-TIS","x":970,"y":1.94},{"s":"Token-TIS","x":980,"y":1.92},{"s":"Token-TIS","x":990,"y":1.93},{"s":"Token-TIS","x":995,"y":1.92}
],
"e2":[{"s":"No-correction","x":1000,"y":1.91},{"s":"Seq-TIS","x":1000,"y":1.53},{"s":"Token-TIS","x":1000,"y":1.95}],
"p3":[
{"s":"No-correction","x":0,"y":0.62},{"s":"No-correction","x":3,"y":0.7},{"s":"No-correction","x":6,"y":0.76},{"s":"No-correction","x":10,"y":0.78},{"s":"No-correction","x":15,"y":0.8},{"s":"No-correction","x":20,"y":0.79},{"s":"No-correction","x":25,"y":0.78},{"s":"No-correction","x":30,"y":0.8},{"s":"No-correction","x":35,"y":0.83},{"s":"No-correction","x":40,"y":0.86},{"s":"No-correction","x":45,"y":0.92},{"s":"No-correction","x":50,"y":1.0},{"s":"No-correction","x":55,"y":1.1},{"s":"No-correction","x":60,"y":1.2},{"s":"No-correction","x":65,"y":1.3},{"s":"No-correction","x":70,"y":1.36},{"s":"No-correction","x":75,"y":1.42},{"s":"No-correction","x":80,"y":1.45},{"s":"No-correction","x":85,"y":1.48},{"s":"No-correction","x":90,"y":1.52},{"s":"No-correction","x":95,"y":1.56},{"s":"No-correction","x":100,"y":1.6},{"s":"No-correction","x":105,"y":1.65},{"s":"No-correction","x":110,"y":1.7},{"s":"No-correction","x":113,"y":1.75},{"s":"No-correction","x":116,"y":1.71},{"s":"No-correction","x":120,"y":1.68},{"s":"No-correction","x":124,"y":1.72},{"s":"No-correction","x":128,"y":1.74},{"s":"No-correction","x":132,"y":1.68},{"s":"No-correction","x":136,"y":1.62},{"s":"No-correction","x":140,"y":1.52},{"s":"No-correction","x":144,"y":1.3},{"s":"No-correction","x":148,"y":1.05},{"s":"No-correction","x":151,"y":0.75},{"s":"No-correction","x":154,"y":0.45},{"s":"No-correction","x":156,"y":0.39},{"s":"No-correction","x":158,"y":0.55},{"s":"No-correction","x":161,"y":0.8},{"s":"No-correction","x":164,"y":0.92},{"s":"No-correction","x":167,"y":0.72},{"s":"No-correction","x":170,"y":0.45},{"s":"No-correction","x":173,"y":0.28},{"s":"No-correction","x":176,"y":0.23},{"s":"No-correction","x":179,"y":0.21},{"s":"No-correction","x":182,"y":0.22},{"s":"No-correction","x":185,"y":0.28},{"s":"No-correction","x":188,"y":0.4},{"s":"No-correction","x":191,"y":0.52},{"s":"No-correction","x":194,"y":0.55},{"s":"No-correction","x":197,"y":0.5},{"s":"No-correction","x":200,"y":0.46},{"s":"No-correction","x":203,"y":0.44},{"s":"No-correction","x":206,"y":0.4},{"s":"No-correction","x":209,"y":0.48},{"s":"No-correction","x":212,"y":0.52},{"s":"No-correction","x":215,"y":0.5},{"s":"No-correction","x":218,"y":0.58},{"s":"No-correction","x":221,"y":0.7},{"s":"No-correction","x":224,"y":0.8},{"s":"No-correction","x":227,"y":0.84},{"s":"No-correction","x":230,"y":0.9},{"s":"No-correction","x":234,"y":1.0},{"s":"No-correction","x":238,"y":1.15},{"s":"No-correction","x":242,"y":1.3},{"s":"No-correction","x":246,"y":1.42},{"s":"No-correction","x":250,"y":1.52},{"s":"No-correction","x":255,"y":1.6},{"s":"No-correction","x":260,"y":1.66},{"s":"No-correction","x":265,"y":1.7},{"s":"No-correction","x":270,"y":1.74},{"s":"No-correction","x":275,"y":1.78},{"s":"No-correction","x":280,"y":1.81},{"s":"No-correction","x":285,"y":1.79},{"s":"No-correction","x":290,"y":1.76},{"s":"No-correction","x":295,"y":1.72},{"s":"No-correction","x":300,"y":1.69},{"s":"No-correction","x":305,"y":1.66},{"s":"No-correction","x":310,"y":1.62},{"s":"No-correction","x":315,"y":1.58},{"s":"No-correction","x":320,"y":1.56},{"s":"No-correction","x":325,"y":1.52},{"s":"No-correction","x":330,"y":1.49},{"s":"No-correction","x":335,"y":1.47},{"s":"No-correction","x":340,"y":1.44},{"s":"No-correction","x":345,"y":1.46},{"s":"No-correction","x":350,"y":1.4},{"s":"No-correction","x":355,"y":1.43},{"s":"No-correction","x":360,"y":1.38},{"s":"No-correction","x":365,"y":1.34},{"s":"No-correction","x":370,"y":1.36},{"s":"No-correction","x":375,"y":1.3},{"s":"No-correction","x":380,"y":1.28},{"s":"No-correction","x":385,"y":1.24},{"s":"No-correction","x":390,"y":1.26},{"s":"No-correction","x":395,"y":1.22},{"s":"No-correction","x":400,"y":1.25},{"s":"No-correction","x":405,"y":1.22},{"s":"No-correction","x":410,"y":1.26},{"s":"No-correction","x":415,"y":1.24},{"s":"No-correction","x":420,"y":1.28},{"s":"No-correction","x":425,"y":1.26},{"s":"No-correction","x":430,"y":1.3},{"s":"No-correction","x":435,"y":1.28},{"s":"No-correction","x":440,"y":1.31},{"s":"No-correction","x":445,"y":1.36},{"s":"No-correction","x":450,"y":1.42},{"s":"No-correction","x":455,"y":1.48},{"s":"No-correction","x":460,"y":1.51},{"s":"No-correction","x":465,"y":1.52},{"s":"No-correction","x":470,"y":1.5},{"s":"No-correction","x":475,"y":1.46},{"s":"No-correction","x":478,"y":1.35},{"s":"No-correction","x":481,"y":1.15},{"s":"No-correction","x":484,"y":0.95},{"s":"No-correction","x":487,"y":0.85},{"s":"No-correction","x":490,"y":0.86},{"s":"No-correction","x":494,"y":0.95},{"s":"No-correction","x":497,"y":1.0},{"s":"No-correction","x":500,"y":0.9},{"s":"No-correction","x":504,"y":0.8},{"s":"No-correction","x":507,"y":0.84},{"s":"No-correction","x":510,"y":0.72},{"s":"No-correction","x":513,"y":0.68},{"s":"No-correction","x":516,"y":0.55},{"s":"No-correction","x":519,"y":0.4},{"s":"No-correction","x":522,"y":0.6},{"s":"No-correction","x":525,"y":0.8},{"s":"No-correction","x":528,"y":0.86},{"s":"No-correction","x":531,"y":0.88},{"s":"No-correction","x":534,"y":0.7},{"s":"No-correction","x":537,"y":0.45},{"s":"No-correction","x":540,"y":0.26},{"s":"No-correction","x":543,"y":0.14},{"s":"No-correction","x":547,"y":0.07},{"s":"No-correction","x":551,"y":0.03},{"s":"No-correction","x":556,"y":0.01},{"s":"No-correction","x":565,"y":0.0},{"s":"No-correction","x":600,"y":0.0},{"s":"No-correction","x":625,"y":0.0},{"s":"No-correction","x":629,"y":0.02},{"s":"No-correction","x":632,"y":0.1},{"s":"No-correction","x":635,"y":0.35},{"s":"No-correction","x":637,"y":0.45},{"s":"No-correction","x":640,"y":0.3},{"s":"No-correction","x":643,"y":0.13},{"s":"No-correction","x":647,"y":0.05},{"s":"No-correction","x":652,"y":0.01},{"s":"No-correction","x":660,"y":0.0},{"s":"No-correction","x":750,"y":0.0},{"s":"No-correction","x":850,"y":0.0},{"s":"No-correction","x":995,"y":0.0},
{"s":"Seq-TIS","x":0,"y":0.57},{"s":"Seq-TIS","x":3,"y":0.6},{"s":"Seq-TIS","x":6,"y":0.7},{"s":"Seq-TIS","x":9,"y":0.8},{"s":"Seq-TIS","x":12,"y":0.84},{"s":"Seq-TIS","x":15,"y":0.82},{"s":"Seq-TIS","x":18,"y":0.86},{"s":"Seq-TIS","x":21,"y":0.88},{"s":"Seq-TIS","x":24,"y":0.85},{"s":"Seq-TIS","x":27,"y":0.89},{"s":"Seq-TIS","x":30,"y":0.9},{"s":"Seq-TIS","x":35,"y":0.88},{"s":"Seq-TIS","x":40,"y":0.92},{"s":"Seq-TIS","x":45,"y":0.94},{"s":"Seq-TIS","x":50,"y":0.93},{"s":"Seq-TIS","x":60,"y":0.95},{"s":"Seq-TIS","x":70,"y":0.93},{"s":"Seq-TIS","x":80,"y":0.96},{"s":"Seq-TIS","x":90,"y":0.94},{"s":"Seq-TIS","x":100,"y":0.95},{"s":"Seq-TIS","x":110,"y":0.97},{"s":"Seq-TIS","x":120,"y":0.94},{"s":"Seq-TIS","x":130,"y":0.96},{"s":"Seq-TIS","x":140,"y":0.93},{"s":"Seq-TIS","x":150,"y":0.95},{"s":"Seq-TIS","x":160,"y":0.97},{"s":"Seq-TIS","x":170,"y":0.94},{"s":"Seq-TIS","x":180,"y":0.95},{"s":"Seq-TIS","x":190,"y":0.96},{"s":"Seq-TIS","x":200,"y":0.93},{"s":"Seq-TIS","x":210,"y":0.95},{"s":"Seq-TIS","x":220,"y":0.97},{"s":"Seq-TIS","x":230,"y":0.94},{"s":"Seq-TIS","x":240,"y":0.96},{"s":"Seq-TIS","x":250,"y":0.95},{"s":"Seq-TIS","x":260,"y":0.93},{"s":"Seq-TIS","x":270,"y":0.96},{"s":"Seq-TIS","x":280,"y":0.94},{"s":"Seq-TIS","x":290,"y":0.95},{"s":"Seq-TIS","x":300,"y":0.97},{"s":"Seq-TIS","x":310,"y":0.94},{"s":"Seq-TIS","x":320,"y":0.96},{"s":"Seq-TIS","x":330,"y":0.95},{"s":"Seq-TIS","x":340,"y":0.93},{"s":"Seq-TIS","x":350,"y":0.95},{"s":"Seq-TIS","x":360,"y":0.97},{"s":"Seq-TIS","x":370,"y":0.94},{"s":"Seq-TIS","x":380,"y":0.95},{"s":"Seq-TIS","x":390,"y":0.96},{"s":"Seq-TIS","x":400,"y":0.94},{"s":"Seq-TIS","x":410,"y":0.97},{"s":"Seq-TIS","x":420,"y":0.95},{"s":"Seq-TIS","x":430,"y":0.93},{"s":"Seq-TIS","x":440,"y":0.96},{"s":"Seq-TIS","x":450,"y":0.94},{"s":"Seq-TIS","x":460,"y":0.95},{"s":"Seq-TIS","x":470,"y":0.97},{"s":"Seq-TIS","x":480,"y":0.94},{"s":"Seq-TIS","x":490,"y":0.96},{"s":"Seq-TIS","x":500,"y":0.95},{"s":"Seq-TIS","x":510,"y":0.93},{"s":"Seq-TIS","x":520,"y":0.96},{"s":"Seq-TIS","x":530,"y":0.94},{"s":"Seq-TIS","x":540,"y":0.95},{"s":"Seq-TIS","x":550,"y":0.97},{"s":"Seq-TIS","x":560,"y":0.94},{"s":"Seq-TIS","x":570,"y":0.96},{"s":"Seq-TIS","x":580,"y":0.95},{"s":"Seq-TIS","x":590,"y":0.93},{"s":"Seq-TIS","x":600,"y":0.96},{"s":"Seq-TIS","x":610,"y":0.97},{"s":"Seq-TIS","x":620,"y":0.95},{"s":"Seq-TIS","x":630,"y":0.93},{"s":"Seq-TIS","x":640,"y":0.96},{"s":"Seq-TIS","x":650,"y":0.94},{"s":"Seq-TIS","x":660,"y":0.96},{"s":"Seq-TIS","x":670,"y":0.95},{"s":"Seq-TIS","x":680,"y":0.93},{"s":"Seq-TIS","x":690,"y":0.95},{"s":"Seq-TIS","x":700,"y":0.94},{"s":"Seq-TIS","x":710,"y":0.91},{"s":"Seq-TIS","x":720,"y":0.95},{"s":"Seq-TIS","x":730,"y":0.96},{"s":"Seq-TIS","x":740,"y":0.94},{"s":"Seq-TIS","x":750,"y":0.96},{"s":"Seq-TIS","x":760,"y":0.95},{"s":"Seq-TIS","x":770,"y":0.93},{"s":"Seq-TIS","x":780,"y":0.96},{"s":"Seq-TIS","x":790,"y":0.94},{"s":"Seq-TIS","x":800,"y":0.95},{"s":"Seq-TIS","x":810,"y":0.97},{"s":"Seq-TIS","x":820,"y":0.94},{"s":"Seq-TIS","x":830,"y":0.96},{"s":"Seq-TIS","x":840,"y":0.98},{"s":"Seq-TIS","x":850,"y":0.95},{"s":"Seq-TIS","x":860,"y":0.94},{"s":"Seq-TIS","x":870,"y":0.96},{"s":"Seq-TIS","x":880,"y":0.95},{"s":"Seq-TIS","x":890,"y":0.94},{"s":"Seq-TIS","x":900,"y":0.96},{"s":"Seq-TIS","x":910,"y":0.95},{"s":"Seq-TIS","x":920,"y":0.93},{"s":"Seq-TIS","x":930,"y":0.95},{"s":"Seq-TIS","x":940,"y":0.94},{"s":"Seq-TIS","x":950,"y":0.96},{"s":"Seq-TIS","x":960,"y":0.95},{"s":"Seq-TIS","x":970,"y":0.93},{"s":"Seq-TIS","x":980,"y":0.95},{"s":"Seq-TIS","x":990,"y":0.96},{"s":"Seq-TIS","x":995,"y":0.95},
{"s":"Token-TIS","x":0,"y":0.64},{"s":"Token-TIS","x":3,"y":0.7},{"s":"Token-TIS","x":6,"y":0.76},{"s":"Token-TIS","x":10,"y":0.79},{"s":"Token-TIS","x":15,"y":0.8},{"s":"Token-TIS","x":20,"y":0.78},{"s":"Token-TIS","x":25,"y":0.8},{"s":"Token-TIS","x":30,"y":0.77},{"s":"Token-TIS","x":35,"y":0.79},{"s":"Token-TIS","x":40,"y":0.76},{"s":"Token-TIS","x":45,"y":0.85},{"s":"Token-TIS","x":50,"y":0.98},{"s":"Token-TIS","x":55,"y":1.12},{"s":"Token-TIS","x":60,"y":1.25},{"s":"Token-TIS","x":65,"y":1.33},{"s":"Token-TIS","x":70,"y":1.38},{"s":"Token-TIS","x":75,"y":1.42},{"s":"Token-TIS","x":80,"y":1.43},{"s":"Token-TIS","x":85,"y":1.41},{"s":"Token-TIS","x":90,"y":1.45},{"s":"Token-TIS","x":95,"y":1.5},{"s":"Token-TIS","x":100,"y":1.52},{"s":"Token-TIS","x":105,"y":1.56},{"s":"Token-TIS","x":110,"y":1.62},{"s":"Token-TIS","x":115,"y":1.66},{"s":"Token-TIS","x":120,"y":1.65},{"s":"Token-TIS","x":125,"y":1.67},{"s":"Token-TIS","x":130,"y":1.66},{"s":"Token-TIS","x":135,"y":1.64},{"s":"Token-TIS","x":140,"y":1.62},{"s":"Token-TIS","x":145,"y":1.58},{"s":"Token-TIS","x":150,"y":1.56},{"s":"Token-TIS","x":155,"y":1.58},{"s":"Token-TIS","x":160,"y":1.55},{"s":"Token-TIS","x":165,"y":1.52},{"s":"Token-TIS","x":170,"y":1.51},{"s":"Token-TIS","x":174,"y":1.56},{"s":"Token-TIS","x":178,"y":1.6},{"s":"Token-TIS","x":182,"y":1.57},{"s":"Token-TIS","x":185,"y":1.5},{"s":"Token-TIS","x":188,"y":1.2},{"s":"Token-TIS","x":191,"y":0.8},{"s":"Token-TIS","x":194,"y":0.55},{"s":"Token-TIS","x":197,"y":0.48},{"s":"Token-TIS","x":200,"y":0.5},{"s":"Token-TIS","x":203,"y":0.4},{"s":"Token-TIS","x":206,"y":0.3},{"s":"Token-TIS","x":209,"y":0.22},{"s":"Token-TIS","x":212,"y":0.16},{"s":"Token-TIS","x":215,"y":0.12},{"s":"Token-TIS","x":218,"y":0.11},{"s":"Token-TIS","x":221,"y":0.14},{"s":"Token-TIS","x":224,"y":0.25},{"s":"Token-TIS","x":227,"y":0.4},{"s":"Token-TIS","x":230,"y":0.47},{"s":"Token-TIS","x":233,"y":0.4},{"s":"Token-TIS","x":236,"y":0.27},{"s":"Token-TIS","x":239,"y":0.5},{"s":"Token-TIS","x":242,"y":0.85},{"s":"Token-TIS","x":245,"y":1.2},{"s":"Token-TIS","x":248,"y":1.4},{"s":"Token-TIS","x":252,"y":1.52},{"s":"Token-TIS","x":256,"y":1.58},{"s":"Token-TIS","x":260,"y":1.62},{"s":"Token-TIS","x":265,"y":1.68},{"s":"Token-TIS","x":270,"y":1.72},{"s":"Token-TIS","x":275,"y":1.76},{"s":"Token-TIS","x":280,"y":1.79},{"s":"Token-TIS","x":285,"y":1.74},{"s":"Token-TIS","x":290,"y":1.78},{"s":"Token-TIS","x":295,"y":1.72},{"s":"Token-TIS","x":300,"y":1.66},{"s":"Token-TIS","x":305,"y":1.62},{"s":"Token-TIS","x":310,"y":1.57},{"s":"Token-TIS","x":315,"y":1.55},{"s":"Token-TIS","x":320,"y":1.53},{"s":"Token-TIS","x":325,"y":1.55},{"s":"Token-TIS","x":330,"y":1.51},{"s":"Token-TIS","x":335,"y":1.49},{"s":"Token-TIS","x":340,"y":1.46},{"s":"Token-TIS","x":345,"y":1.48},{"s":"Token-TIS","x":350,"y":1.44},{"s":"Token-TIS","x":355,"y":1.46},{"s":"Token-TIS","x":360,"y":1.42},{"s":"Token-TIS","x":365,"y":1.32},{"s":"Token-TIS","x":370,"y":1.35},{"s":"Token-TIS","x":375,"y":1.38},{"s":"Token-TIS","x":380,"y":1.3},{"s":"Token-TIS","x":385,"y":1.24},{"s":"Token-TIS","x":390,"y":1.12},{"s":"Token-TIS","x":395,"y":1.18},{"s":"Token-TIS","x":400,"y":1.25},{"s":"Token-TIS","x":405,"y":1.2},{"s":"Token-TIS","x":410,"y":1.16},{"s":"Token-TIS","x":415,"y":1.12},{"s":"Token-TIS","x":420,"y":1.06},{"s":"Token-TIS","x":424,"y":0.95},{"s":"Token-TIS","x":427,"y":0.8},{"s":"Token-TIS","x":430,"y":0.55},{"s":"Token-TIS","x":433,"y":0.35},{"s":"Token-TIS","x":436,"y":0.18},{"s":"Token-TIS","x":440,"y":0.08},{"s":"Token-TIS","x":445,"y":0.03},{"s":"Token-TIS","x":450,"y":0.01},{"s":"Token-TIS","x":460,"y":0.0},{"s":"Token-TIS","x":520,"y":0.0},{"s":"Token-TIS","x":525,"y":0.02},{"s":"Token-TIS","x":530,"y":0.0},{"s":"Token-TIS","x":575,"y":0.0},{"s":"Token-TIS","x":585,"y":0.01},{"s":"Token-TIS","x":593,"y":0.03},{"s":"Token-TIS","x":600,"y":0.05},{"s":"Token-TIS","x":605,"y":0.09},{"s":"Token-TIS","x":610,"y":0.16},{"s":"Token-TIS","x":613,"y":0.3},{"s":"Token-TIS","x":616,"y":0.7},{"s":"Token-TIS","x":619,"y":1.2},{"s":"Token-TIS","x":622,"y":1.48},{"s":"Token-TIS","x":626,"y":1.55},{"s":"Token-TIS","x":630,"y":1.64},{"s":"Token-TIS","x":634,"y":1.72},{"s":"Token-TIS","x":637,"y":1.73},{"s":"Token-TIS","x":640,"y":1.69},{"s":"Token-TIS","x":644,"y":1.58},{"s":"Token-TIS","x":648,"y":1.45},{"s":"Token-TIS","x":651,"y":1.42},{"s":"Token-TIS","x":655,"y":1.52},{"s":"Token-TIS","x":659,"y":1.5},{"s":"Token-TIS","x":663,"y":1.53},{"s":"Token-TIS","x":667,"y":1.48},{"s":"Token-TIS","x":671,"y":1.5},{"s":"Token-TIS","x":675,"y":1.43},{"s":"Token-TIS","x":679,"y":1.4},{"s":"Token-TIS","x":683,"y":1.44},{"s":"Token-TIS","x":687,"y":1.38},{"s":"Token-TIS","x":691,"y":1.36},{"s":"Token-TIS","x":695,"y":1.4},{"s":"Token-TIS","x":699,"y":1.34},{"s":"Token-TIS","x":703,"y":1.37},{"s":"Token-TIS","x":707,"y":1.32},{"s":"Token-TIS","x":711,"y":1.35},{"s":"Token-TIS","x":715,"y":1.3},{"s":"Token-TIS","x":719,"y":1.33},{"s":"Token-TIS","x":723,"y":1.27},{"s":"Token-TIS","x":727,"y":1.31},{"s":"Token-TIS","x":731,"y":1.35},{"s":"Token-TIS","x":735,"y":1.3},{"s":"Token-TIS","x":739,"y":1.27},{"s":"Token-TIS","x":743,"y":1.31},{"s":"Token-TIS","x":747,"y":1.28},{"s":"Token-TIS","x":751,"y":1.26},{"s":"Token-TIS","x":755,"y":1.3},{"s":"Token-TIS","x":759,"y":1.27},{"s":"Token-TIS","x":763,"y":1.31},{"s":"Token-TIS","x":767,"y":1.29},{"s":"Token-TIS","x":771,"y":1.25},{"s":"Token-TIS","x":775,"y":1.21},{"s":"Token-TIS","x":779,"y":1.16},{"s":"Token-TIS","x":783,"y":1.19},{"s":"Token-TIS","x":787,"y":1.13},{"s":"Token-TIS","x":791,"y":1.1},{"s":"Token-TIS","x":795,"y":1.14},{"s":"Token-TIS","x":799,"y":1.08},{"s":"Token-TIS","x":803,"y":1.05},{"s":"Token-TIS","x":807,"y":1.1},{"s":"Token-TIS","x":811,"y":1.02},{"s":"Token-TIS","x":815,"y":0.98},{"s":"Token-TIS","x":819,"y":0.97},{"s":"Token-TIS","x":823,"y":1.02},{"s":"Token-TIS","x":827,"y":1.12},{"s":"Token-TIS","x":830,"y":1.25},{"s":"Token-TIS","x":833,"y":1.38},{"s":"Token-TIS","x":836,"y":1.41},{"s":"Token-TIS","x":839,"y":1.3},{"s":"Token-TIS","x":842,"y":1.1},{"s":"Token-TIS","x":845,"y":1.0},{"s":"Token-TIS","x":848,"y":0.9},{"s":"Token-TIS","x":851,"y":0.8},{"s":"Token-TIS","x":854,"y":0.7},{"s":"Token-TIS","x":857,"y":0.75},{"s":"Token-TIS","x":860,"y":1.05},{"s":"Token-TIS","x":863,"y":1.35},{"s":"Token-TIS","x":866,"y":1.5},{"s":"Token-TIS","x":870,"y":1.56},{"s":"Token-TIS","x":874,"y":1.58},{"s":"Token-TIS","x":878,"y":1.62},{"s":"Token-TIS","x":882,"y":1.6},{"s":"Token-TIS","x":886,"y":1.55},{"s":"Token-TIS","x":890,"y":1.58},{"s":"Token-TIS","x":894,"y":1.57},{"s":"Token-TIS","x":898,"y":1.52},{"s":"Token-TIS","x":902,"y":1.6},{"s":"Token-TIS","x":906,"y":1.64},{"s":"Token-TIS","x":910,"y":1.66},{"s":"Token-TIS","x":914,"y":1.7},{"s":"Token-TIS","x":918,"y":1.72},{"s":"Token-TIS","x":922,"y":1.75},{"s":"Token-TIS","x":926,"y":1.8},{"s":"Token-TIS","x":930,"y":1.84},{"s":"Token-TIS","x":934,"y":1.85},{"s":"Token-TIS","x":938,"y":1.83},{"s":"Token-TIS","x":942,"y":1.86},{"s":"Token-TIS","x":946,"y":1.84},{"s":"Token-TIS","x":950,"y":1.87},{"s":"Token-TIS","x":954,"y":1.85},{"s":"Token-TIS","x":958,"y":1.88},{"s":"Token-TIS","x":962,"y":1.84},{"s":"Token-TIS","x":966,"y":1.86},{"s":"Token-TIS","x":970,"y":1.88},{"s":"Token-TIS","x":974,"y":1.85},{"s":"Token-TIS","x":978,"y":1.83},{"s":"Token-TIS","x":982,"y":1.81},{"s":"Token-TIS","x":986,"y":1.84},{"s":"Token-TIS","x":990,"y":1.82},{"s":"Token-TIS","x":995,"y":1.84}
],
"e3":[{"s":"No-correction","x":1000,"y":0.0},{"s":"Seq-TIS","x":1000,"y":0.97},{"s":"Token-TIS","x":1000,"y":1.88}]
},
"spacing":66,
"bounds":"flush",
"resolve":{"legend":{"color":"independent"}},
"hconcat":[
{"title":"temp=0.4, top-k=-1, top-p=1","width":338,"height":333,
"encoding":{"x":{"field":"x","type":"quantitative","title":"Step","scale":{"domain":[-50,1050],"nice":false,"zero":false},"axis":{"values":[0,200,400,600,800,1000],"format":"d"}},
"y":{"field":"y","type":"quantitative","title":"Training Reward","scale":{"domain":[0.457,2.075],"nice":false,"zero":false},"axis":{"values":[0.6,0.8,1.0,1.2,1.4,1.6,1.8,2.0],"format":".1f"}},
"color":{"field":"s","type":"nominal","legend":null,"scale":{"domain":["No-correction","Seq-TIS","Token-TIS"],"range":["#898989","#ef8f3b","#3b7ab6"]}}},
"layer":[{"data":{"name":"p1"},"mark":{"type":"line"}},{"data":{"name":"e1"},"mark":{"type":"point"}}]},
{"title":"temp=1, top-k=-1, top-p=1","width":339,"height":333,
"encoding":{"x":{"field":"x","type":"quantitative","title":"Step","scale":{"domain":[-50,1050],"nice":false,"zero":false},"axis":{"values":[0,200,400,600,800,1000],"format":"d"}},
"y":{"field":"y","type":"quantitative","title":"Training Reward","scale":{"domain":[0.357,2.079],"nice":false,"zero":false},"axis":{"values":[0.4,0.6,0.8,1.0,1.2,1.4,1.6,1.8,2.0],"format":".1f"}},
"color":{"field":"s","type":"nominal","legend":null,"scale":{"domain":["No-correction","Seq-TIS","Token-TIS"],"range":["#898989","#ef8f3b","#3b7ab6"]}}},
"layer":[{"data":{"name":"p2"},"mark":{"type":"line"}},{"data":{"name":"e2"},"mark":{"type":"point"}}]},
{"title":"temp=0.7, top-k=20, top-p=0.8","width":340,"height":333,
"encoding":{"x":{"field":"x","type":"quantitative","title":"Step","scale":{"domain":[-50,1050],"nice":false,"zero":false},"axis":{"values":[0,200,400,600,800,1000],"format":"d"}},
"y":{"field":"y","type":"quantitative","title":"Training Reward","scale":{"domain":[-0.096,2.094],"nice":false,"zero":false},"axis":{"values":[0,0.25,0.5,0.75,1.0,1.25,1.5,1.75,2.0],"format":".2f"}},
"color":{"field":"s","type":"nominal","scale":{"domain":["No-correction","Seq-TIS","Token-TIS"],"range":["#898989","#ef8f3b","#3b7ab6"]},
"legend":{"title":null,"orient":"bottom-right","offset":5,"padding":5,"fillColor":"rgba(255,255,255,0.8)","strokeColor":"#cccccc","cornerRadius":3,"symbolType":"M-1.7,0H1.7","symbolSize":196,"symbolOffset":6,"symbolStrokeWidth":3,"labelFontSize":11.5,"labelColor":"#222","labelOffset":13,"rowPadding":2}}},
"layer":[{"data":{"name":"p3"},"mark":{"type":"line"}},{"data":{"name":"e3"},"mark":{"type":"point"}}]}
]
}
